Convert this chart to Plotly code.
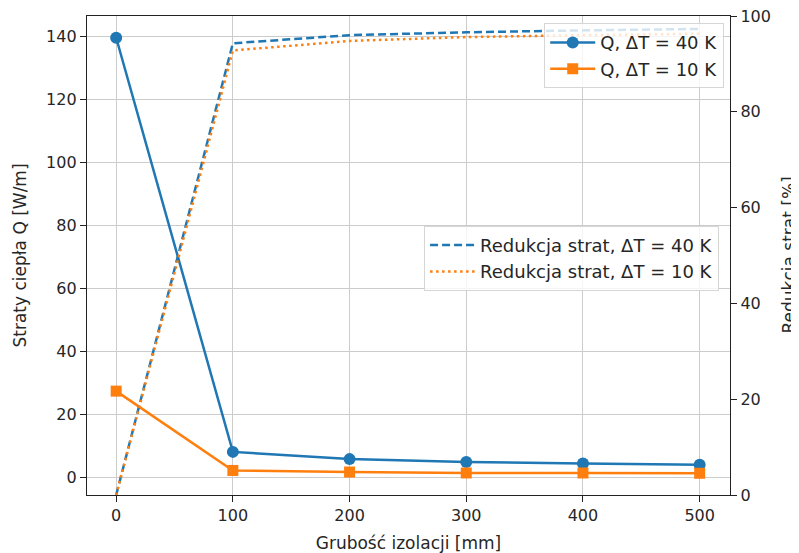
import plotly.graph_objects as go

thickness = [0, 100, 200, 300, 400, 500]
q_40 = [139.6, 8.0, 5.7, 4.8, 4.3, 3.9]
q_10 = [27.3, 2.1, 1.6, 1.3, 1.3, 1.2]
red_40 = [0, 94.3, 96.0, 96.6, 97.0, 97.3]
red_10 = [0, 92.8, 94.8, 95.6, 96.0, 96.3]

BLUE = "#1f77b4"
ORANGE = "#ff7f0e"
FONT = "DejaVu Sans"
FS = 16
FS_TITLE = 17
FS_LEG = 18

fig = go.Figure()
fig.add_trace(go.Scatter(x=thickness, y=q_40, mode="lines+markers", name="Q, ΔT = 40 K",
                         line=dict(color=BLUE, width=2.5), marker=dict(symbol="circle", size=12, color=BLUE),
                         legend="legend"))
fig.add_trace(go.Scatter(x=thickness, y=q_10, mode="lines+markers", name="Q, ΔT = 10 K",
                         line=dict(color=ORANGE, width=2.5), marker=dict(symbol="square", size=11, color=ORANGE),
                         legend="legend"))
fig.add_trace(go.Scatter(x=thickness, y=red_40, mode="lines", name="Redukcja strat, ΔT = 40 K",
                         line=dict(color=BLUE, width=2.5, dash="8px,4px"), yaxis="y2", legend="legend2"))
fig.add_trace(go.Scatter(x=thickness, y=red_10, mode="lines", name="Redukcja strat, ΔT = 10 K",
                         line=dict(color=ORANGE, width=2.5, dash="2.5px,3.5px"), yaxis="y2", legend="legend2"))

axis_common = dict(showline=True, linecolor="#222", linewidth=1.4, ticks="outside", ticklen=6,
                   tickcolor="#222", tickwidth=1.2, tickfont=dict(size=FS, color="#262626"),
                   zeroline=False, automargin=False, ticklabeloverflow="allow")

# the page body has an 8px margin, so the figure is 8px smaller than the window
fig.update_layout(
    width=791, height=545,
    margin=dict(l=79, r=69, t=8, b=58),
    paper_bgcolor="white", plot_bgcolor="white",
    font=dict(family=FONT, size=FS, color="#262626"),
    xaxis=dict(range=[-25, 526], tickvals=thickness, showgrid=True, gridcolor="#cccccc", gridwidth=1.2,
               mirror=True, title=dict(text="Grubość izolacji [mm]", font=dict(size=FS_TITLE)),
               **axis_common),
    yaxis=dict(range=[-5.7, 146.5], tickvals=[0, 20, 40, 60, 80, 100, 120, 140], showgrid=True,
               gridcolor="#cccccc", gridwidth=1.2, mirror=True,
               title=dict(text="Straty ciepła Q [W/m]", font=dict(size=FS_TITLE)),
               **axis_common),
    yaxis2=dict(range=[0, 100], tickvals=[0, 20, 40, 60, 80, 100], overlaying="y", side="right",
                showgrid=False, **axis_common),
    legend=dict(x=0.991, y=0.985, xanchor="right", yanchor="top", bgcolor="rgba(255,255,255,0.8)",
                bordercolor="#d6d6d6", borderwidth=1, font=dict(size=FS_LEG, color="#262626"),
                tracegroupgap=2, itemwidth=45),
    legend2=dict(x=0.983, y=0.562, xanchor="right", yanchor="top", bgcolor="rgba(255,255,255,0.8)",
                 bordercolor="#d6d6d6", borderwidth=1, font=dict(size=FS_LEG, color="#262626"),
                 itemwidth=45),
    annotations=[dict(text="Redukcja strat [%]", xref="paper", yref="paper", x=1, y=0.5,
                      xanchor="center", yanchor="middle", xshift=58, textangle=-90, showarrow=False,
                      font=dict(size=FS_TITLE, color="#262626"))],
)

fig.write_html("out.html")
